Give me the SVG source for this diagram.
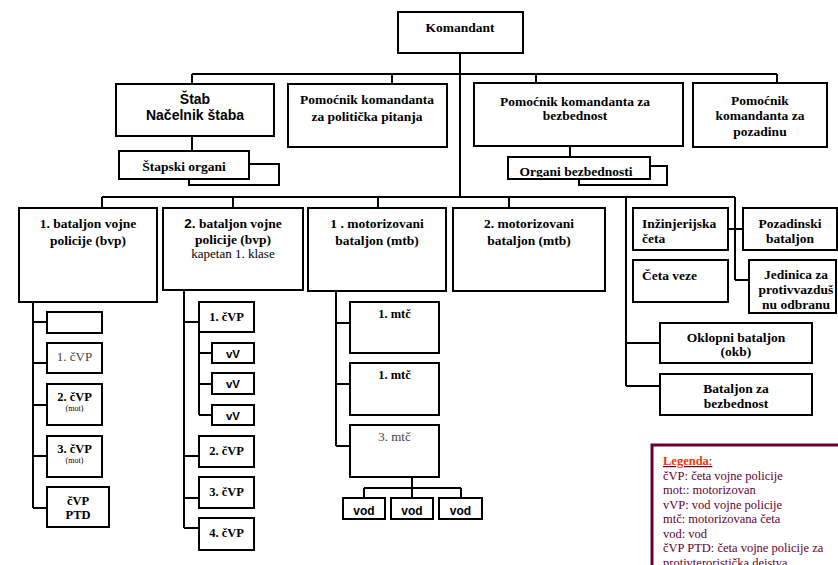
<svg xmlns="http://www.w3.org/2000/svg" width="838" height="565" viewBox="0 0 838 565">
<style>
.box{fill:#fff;stroke:#000;stroke-width:2}
.ln{fill:none;stroke:#000;stroke-width:2}
.tb{font-family:"Liberation Serif","Times New Roman",serif;font-weight:bold;font-size:13.5px;fill:#000}
.tn{font-family:"Liberation Serif","Times New Roman",serif;font-size:13px;fill:#000}
.ts{font-family:"Liberation Serif","Times New Roman",serif;font-size:8px;fill:#000}
.ta{font-family:"Liberation Sans",Arial,sans-serif;font-weight:bold;font-size:14px;fill:#000}
.tv{font-family:"Liberation Sans",Arial,sans-serif;font-weight:bold;font-size:11.5px;fill:#000}
.c{text-anchor:middle}
.lg{font-family:"Liberation Serif","Times New Roman",serif;font-size:12.5px;fill:#660033}
</style>
<defs>
<clipPath id="clipOB"><rect x="508" y="157" width="142" height="20"/></clipPath>
</defs>
<rect width="838" height="565" fill="#fff"/>
<g id="connectors">
<path class="ln" d="M460 53V197M192 74H777M192 74V84M392 74V84M536 74V83M777 74V83"/>
<path class="ln" d="M192 136V151M249 164H279V185H189V179"/>
<path class="ln" d="M570 146V157M650 166H667V185H579V179"/>
<path class="ln" d="M102 197H735M102 197V208M233 197V208M378 197V208M509 197V208"/>
<path class="ln" d="M626 197V386M626 343H660M626 386H660M735 197V280M728 229H743M735 280H749"/>
<path class="ln" d="M33 302V508M33 322H47M33 363H47M33 405H47M33 456H47M33 508H47"/>
<path class="ln" d="M184 290V528M184 322H199M199 332V415M199 353H212M199 384H212M199 415H212M184 456H199M184 498H199M184 528H199"/>
<path class="ln" d="M336 291V446M336 323H350M336 384H350M336 446H350"/>
<path class="ln" d="M412 477V488M364 488H461M364 488V498M412 488V498M461 488V498"/>
</g>
<g id="komandant"><rect class="box" x="398" y="12" width="125" height="41"/><text class="tb c" x="460" y="32">Komandant</text></g>
<g id="stab"><rect class="box" x="116" y="84" width="158" height="52"/><text class="ta c" x="195" y="104">Štab</text><text class="ta c" x="195" y="120">Načelnik štaba</text></g>
<g id="pom-pol"><rect class="box" x="288" y="84" width="159" height="63"/><text class="tb c" x="367" y="104">Pomoćnik komandanta</text><text class="tb c" x="367" y="121">za politička pitanja</text></g>
<g id="pom-bez"><rect class="box" x="474" y="83" width="209" height="63"/><text class="tb c" x="575" y="106">Pomoćnik komandanta za</text><text class="tb c" x="575" y="120">bezbednost</text></g>
<g id="pom-poz"><rect class="box" x="693" y="83" width="134" height="64"/><text class="tb c" x="760" y="105">Pomoćnik</text><text class="tb c" x="760" y="120">komandanta za</text><text class="tb c" x="760" y="136">pozadinu</text></g>
<g id="stapski"><rect class="box" x="119" y="151" width="130" height="28"/><text class="tb c" x="184" y="171">Štapski organi</text></g>
<g id="organi-bez"><rect class="box" x="508" y="157" width="142" height="22"/><text class="tb c" x="576" y="176" clip-path="url(#clipOB)">Organi bezbednosti</text><rect x="508" y="157" width="142" height="22" fill="none" stroke="#000" stroke-width="2"/></g>
<g id="bvp1"><rect class="box" x="19" y="208" width="138" height="94"/><text class="tb c" x="88" y="228">1. bataljon vojne</text><text class="tb c" x="88" y="245">policije (bvp)</text></g>
<g id="bvp2"><rect class="box" x="163" y="208" width="140" height="82"/><text class="tb c" x="233" y="228"><tspan class="ta" style="font-size:13.5px">2.</tspan> bataljon vojne</text><text class="tb c" x="233" y="244">policije (bvp)</text><text class="tn c" x="233" y="258">kapetan 1. klase</text></g>
<g id="mtb1"><rect class="box" x="308" y="208" width="138" height="83"/><text class="tb c" x="377" y="228">1 . motorizovani</text><text class="tb c" x="377" y="245">bataljon (mtb)</text></g>
<g id="mtb2"><rect class="box" x="453" y="208" width="152" height="83"/><text class="tb c" x="529" y="228">2. motorizovani</text><text class="tb c" x="529" y="245">bataljon (mtb)</text></g>
<g id="inz"><rect class="box" x="633" y="208" width="95" height="42"/><text class="tb" x="642" y="228">Inžinjerijska</text><text class="tb" x="642" y="243">četa</text></g>
<g id="pozb"><rect class="box" x="743" y="208" width="94" height="42"/><text class="tb c" x="790" y="228">Pozadinski</text><text class="tb c" x="790" y="243">bataljon</text></g>
<g id="veze"><rect class="box" x="633" y="260" width="95" height="42"/><text class="tb" x="642" y="280">Četa veze</text></g>
<g id="pvo"><rect class="box" x="749" y="260" width="87" height="53"/><text class="tb c" x="796" y="279">Jedinica za</text><text class="tb c" x="796" y="294">protivvazduš</text><text class="tb c" x="796" y="309">nu odbranu</text></g>
<g id="okb"><rect class="box" x="660" y="323" width="152" height="40"/><text class="tb c" x="736" y="342">Oklopni bataljon</text><text class="tb c" x="736" y="356">(okb)</text></g>
<g id="bzb"><rect class="box" x="660" y="374" width="152" height="41"/><text class="tb c" x="736" y="393">Bataljon za</text><text class="tb c" x="736" y="408">bezbednost</text></g>
<g id="b1-0"><rect class="box" x="47" y="312" width="55" height="21"/></g>
<g id="b1-1"><rect class="box" x="47" y="343" width="55" height="30"/><text class="tn c" x="74.5" y="361" style="fill:#444">1. čVP</text></g>
<g id="b1-2"><rect class="box" x="47" y="384" width="55" height="41"/><text class="tb c" x="74.5" y="401" style="font-size:12.5px">2. čVP</text><text class="ts c" x="74.5" y="411">(mot)</text></g>
<g id="b1-3"><rect class="box" x="47" y="436" width="55" height="41"/><text class="tb c" x="74.5" y="453" style="font-size:12.5px">3. čVP</text><text class="ts c" x="74.5" y="463">(mot)</text></g>
<g id="b1-ptd"><rect class="box" x="47" y="487" width="62" height="40"/><text class="tb c" x="78" y="505" style="font-size:12.5px">čVP</text><text class="tb c" x="78" y="519" style="font-size:12.5px">PTD</text></g>
<g id="b2-1"><rect class="box" x="199" y="302" width="55" height="30"/><text class="tb c" x="226.5" y="321" style="font-size:12.5px">1. čVP</text></g>
<g id="b2-v1"><rect class="box" x="212" y="343" width="42" height="20"/><text class="tv c" x="233" y="358">vV</text></g>
<g id="b2-v2"><rect class="box" x="212" y="373" width="42" height="21"/><text class="tv c" x="233" y="388">vV</text></g>
<g id="b2-v3"><rect class="box" x="212" y="405" width="42" height="20"/><text class="tv c" x="233" y="420">vV</text></g>
<g id="b2-2"><rect class="box" x="199" y="436" width="55" height="31"/><text class="tb c" x="226.5" y="455" style="font-size:12.5px">2. čVP</text></g>
<g id="b2-3"><rect class="box" x="199" y="477" width="55" height="31"/><text class="tb c" x="226.5" y="496" style="font-size:12.5px">3. čVP</text></g>
<g id="b2-4"><rect class="box" x="199" y="518" width="55" height="32"/><text class="tb c" x="226.5" y="537" style="font-size:12.5px">4. čVP</text></g>
<g id="mtc1"><rect class="box" x="350" y="302" width="89" height="51"/><text class="tb c" x="394.5" y="318" style="font-size:12.5px">1. mtč</text></g>
<g id="mtc2"><rect class="box" x="350" y="363" width="89" height="52"/><text class="tb c" x="394.5" y="379" style="font-size:12.5px">1. mtč</text></g>
<g id="mtc3"><rect class="box" x="350" y="425" width="89" height="52"/><text class="tn c" x="394.5" y="441" style="fill:#444">3. mtč</text></g>
<g id="vod1"><rect class="box" x="343" y="498" width="42" height="21"/><text class="tv c" x="364" y="515" style="font-size:12px">vod</text></g>
<g id="vod2"><rect class="box" x="391" y="498" width="42" height="21"/><text class="tv c" x="412" y="515" style="font-size:12px">vod</text></g>
<g id="vod3"><rect class="box" x="439" y="498" width="43" height="21"/><text class="tv c" x="460.5" y="515" style="font-size:12px">vod</text></g>
<g id="legend">
<rect x="652" y="445" width="200" height="140" fill="#fff" stroke="#660033" stroke-width="3"/>
<text class="lg" x="663" y="465" style="text-decoration:underline"><tspan style="fill:#ff3300;font-weight:bold">Legenda</tspan>:</text>
<text class="lg" x="663" y="479.5">čVP: četa vojne policije</text>
<text class="lg" x="663" y="494">mot:: motorizovan</text>
<text class="lg" x="663" y="508.5">vVP: vod vojne policije</text>
<text class="lg" x="663" y="523">mtč: motorizovana četa</text>
<text class="lg" x="663" y="537.5">vod: vod</text>
<text class="lg" x="663" y="552">čVP PTD: četa vojne policije za</text>
<text class="lg" x="663" y="566.5">protivteroristička dejstva</text>
</g>
</svg>
